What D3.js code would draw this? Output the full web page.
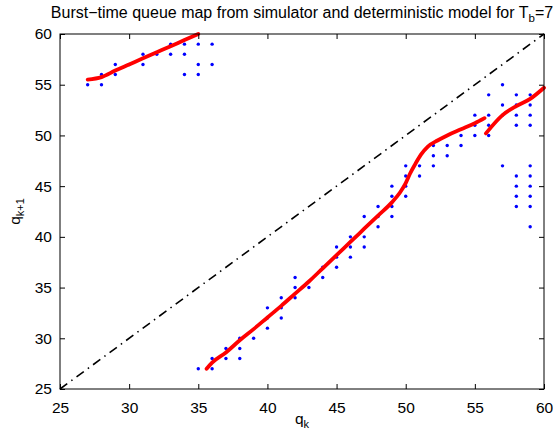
<!DOCTYPE html>
<html><head><meta charset="utf-8">
<script src="https://cdn.jsdelivr.net/npm/d3@7"></script>
<style>
body{margin:0;background:#fff;}
text{font-family:"Liberation Sans",Arial,sans-serif;}
</style></head>
<body>
<svg id="chart" width="553" height="434"></svg>
<script>
// Simulator points (q_k, q_{k+1})
const simQk  = [27,28,28,29,29,30,31,31,32,33,33,34,34,34,35,35,35,36,36,
  35,36,36,37,37,38,38,38,39,40,40,40,41,41,41,42,42,42,43,44,44,45,45,45,46,46,46,47,47,47,48,48,48,49,49,49,49,50,50,50,50,51,51,52,52,52,53,53,54,54,55,
  55,55,56,56,56,56,57,57,57,58,58,58,58,59,59,59,59,57,59,58,59,58,59,58,59,58,59,59];
const simQk1 = [55,55,56,56,57,57,57,58,58,58,59,56,58,59,56,57,59,57,59,
  27,27,28,28,29,28,29,30,30,31,32,33,32,33,34,34,35,36,35,36,37,37,38,39,38,39,40,39,40,42,41,42,43,42,43,44,45,44,45,46,47,46,47,47,48,49,48,49,49,50,50,
  51,52,50,51,52,54,52,53,55,51,52,53,54,51,52,53,54,47,47,46,46,45,45,44,44,43,43,41];
// Deterministic model curve, three branches
const modelA_x = [27,28,29,30,31,32,33,34,35];
const modelA_y = [55.5,55.75,56.4,57,57.6,58.2,58.8,59.4,60];
const modelB_x = [35.6,36,37,38,39,40,41,42,43,44,45,46,47,48,49,49.6,50,50.3,50.7,51.1,51.6,52.3,53,54,55,55.7];
const modelB_y = [27,27.6,28.6,29.8,30.9,32.05,33.2,34.4,35.6,36.9,38.2,39.5,40.8,42.1,43.4,44.4,45.3,46.2,47.2,48.1,48.9,49.5,50.0,50.6,51.2,51.7];
const modelC_x = [55.8,57,58,59,60];
const modelC_y = [50.2,52,52.9,53.6,54.7];
const xTicks = [25,30,35,40,45,50,55,60];
const yTicks = [25,30,35,40,45,50,55,60];

const svg = d3.select("#chart");
const L=60,R=544,T=34,B=389;
const x = d3.scaleLinear().domain([25,60]).range([L,R]);
const y = d3.scaleLinear().domain([25,60]).range([B,T]);

// diagonal
svg.append("line").attr("x1",x(25)).attr("y1",y(25)).attr("x2",x(60)).attr("y2",y(60))
  .attr("stroke","#000").attr("stroke-width",1.6).attr("stroke-dasharray","9,5,1.5,5");

// sim dots
const pts = simQk.map((v,i)=>[v,simQk1[i]]);
svg.append("g").selectAll("circle").data(pts).join("circle")
  .attr("cx",d=>x(d[0])).attr("cy",d=>y(d[1])).attr("r",1.7).attr("fill","#0000ff");

// model curve
const line = d3.line().x(d=>x(d[0])).y(d=>y(d[1])).curve(d3.curveMonotoneX);
[[modelA_x,modelA_y],[modelB_x,modelB_y],[modelC_x,modelC_y]].forEach(([xs,ys])=>{
  svg.append("path").datum(xs.map((v,i)=>[v,ys[i]])).attr("d",line)
    .attr("fill","none").attr("stroke","#ff0000").attr("stroke-width",3.8).attr("stroke-linecap","round");
});

// frame
svg.append("rect").attr("x",L).attr("y",T).attr("width",R-L).attr("height",B-T)
  .attr("fill","none").attr("stroke","#000").attr("stroke-width",1);

// axes
const tl=5;
const gx=svg.append("g").attr("transform",`translate(0,${B})`)
  .call(d3.axisBottom(x).tickValues(xTicks).tickSize(-tl).tickPadding(8+tl).tickFormat(d3.format("d")));
const gxt=svg.append("g").attr("transform",`translate(0,${T})`)
  .call(d3.axisTop(x).tickValues(xTicks).tickSize(-tl).tickFormat(""));
const gy=svg.append("g").attr("transform",`translate(${L},0)`)
  .call(d3.axisLeft(y).tickValues(yTicks).tickSize(-tl).tickPadding(3+tl).tickFormat(d3.format("d")));
const gyr=svg.append("g").attr("transform",`translate(${R},0)`)
  .call(d3.axisRight(y).tickValues(yTicks).tickSize(-tl).tickFormat(""));
[gx,gxt,gy,gyr].forEach(g=>{
  g.select(".domain").remove();
  g.selectAll("line").attr("stroke","#000");
  g.selectAll("text").attr("font-size",15.5).attr("fill","#000").attr("font-family","Liberation Sans, Arial, sans-serif");
});

// title
const title = svg.append("text").attr("x",302).attr("y",18).attr("text-anchor","middle")
  .attr("font-size",16).attr("fill","#000");
title.append("tspan").text("Burst\u2212time queue map from simulator and deterministic model for T");
title.append("tspan").attr("font-size",11.5).attr("dy",4).text("b");
title.append("tspan").attr("dy",-4).text("=7");

// x label
const xl = svg.append("text").attr("x",302).attr("y",424).attr("text-anchor","middle").attr("font-size",15.5);
xl.append("tspan").text("q");
xl.append("tspan").attr("font-size",11).attr("dy",4).text("k");

// y label
const yl = svg.append("text").attr("transform",`translate(20,${(T+B)/2}) rotate(-90)`).attr("text-anchor","middle").attr("font-size",15.5);
yl.append("tspan").text("q");
yl.append("tspan").attr("font-size",11).attr("dy",4).text("k+1");
</script>
</body></html>
